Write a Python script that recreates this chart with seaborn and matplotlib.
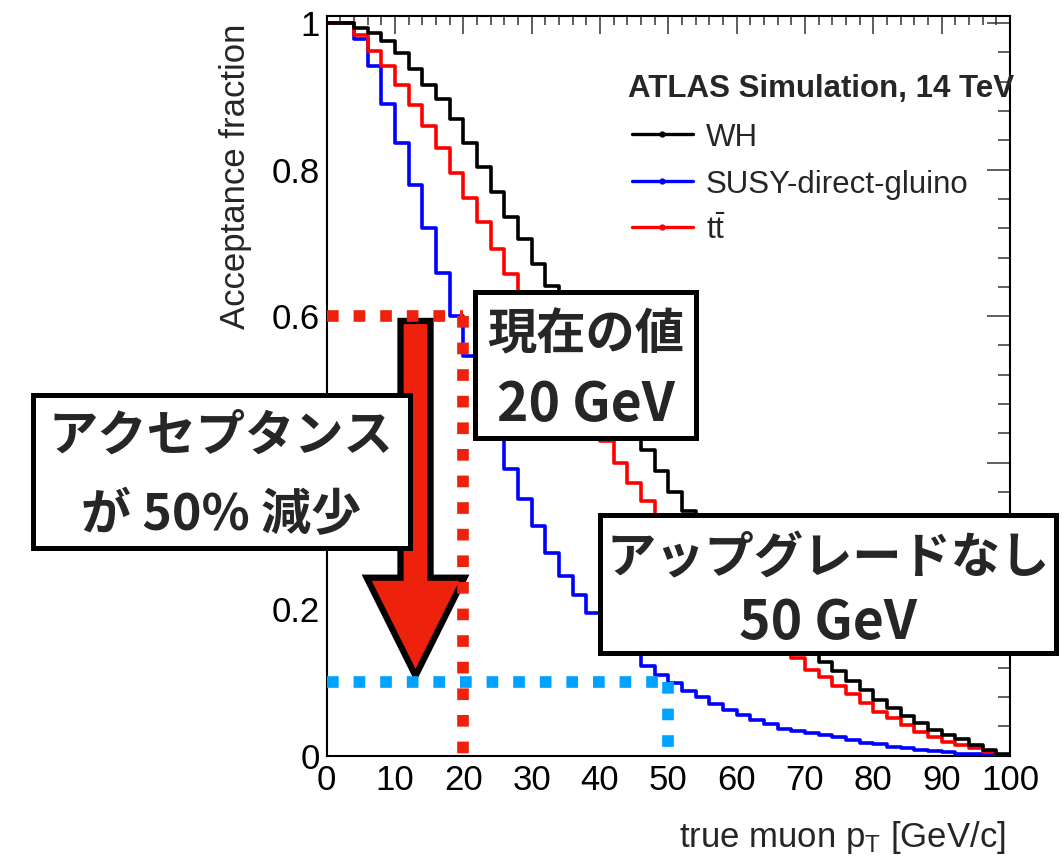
import numpy as np
import pandas as pd
import seaborn as sns
import matplotlib
matplotlib.use("Agg")
import matplotlib.pyplot as plt
from matplotlib.patches import Rectangle, FancyArrow
from matplotlib.lines import Line2D
from matplotlib.ticker import MultipleLocator, FuncFormatter

# ---------------- data ----------------
bin_edges = list(range(0, 102, 2))  # true muon pT bins [GeV/c]

wh = [1.000, 1.000, 0.994, 0.986, 0.975, 0.959, 0.938, 0.916, 0.896, 0.869,
      0.836, 0.804, 0.769, 0.735, 0.705, 0.671, 0.641, 0.610, 0.578, 0.546,
      0.514, 0.482, 0.450, 0.417, 0.388, 0.360, 0.334, 0.311, 0.287, 0.264,
      0.242, 0.221, 0.201, 0.182, 0.164, 0.146, 0.128, 0.115, 0.102, 0.090,
      0.076, 0.065, 0.054, 0.045, 0.035, 0.028, 0.023, 0.015, 0.008, 0.002]

susy = [1.000, 1.000, 0.979, 0.942, 0.889, 0.836, 0.779, 0.720, 0.659, 0.600,
        0.545, 0.492, 0.441, 0.392, 0.351, 0.313, 0.277, 0.245, 0.219, 0.195,
        0.175, 0.157, 0.139, 0.122, 0.110, 0.099, 0.089, 0.080, 0.071, 0.062,
        0.056, 0.049, 0.043, 0.037, 0.034, 0.031, 0.028, 0.025, 0.021, 0.018,
        0.016, 0.012, 0.010, 0.008, 0.006, 0.005, 0.003, 0.002, 0.001, 0.000]

ttbar = [1.000, 1.000, 0.984, 0.962, 0.942, 0.916, 0.888, 0.860, 0.830, 0.796,
         0.762, 0.728, 0.692, 0.657, 0.625, 0.593, 0.560, 0.528, 0.495, 0.463,
         0.430, 0.399, 0.372, 0.348, 0.323, 0.299, 0.276, 0.254, 0.233, 0.213,
         0.194, 0.177, 0.161, 0.147, 0.133, 0.117, 0.108, 0.095, 0.084, 0.072,
         0.060, 0.051, 0.042, 0.033, 0.026, 0.019, 0.015, 0.010, 0.0055, 0.001]

series_labels = ["WH", "SUSY-direct-gluino", r"t$\bar{\mathrm{t}}$"]
series_colors = ["#000000", "#0000FF", "#FF0000"]

current_cut, current_acc = 20, 0.6       # 現在の値 20 GeV
noupgrade_cut, noupgrade_acc = 50, 0.1   # アップグレードなし 50 GeV

x_ticks = [0, 10, 20, 30, 40, 50, 60, 70, 80, 90, 100]
y_ticks = [0, 0.2, 0.4, 0.6, 0.8, 1.0]
y_hidden_ticks = [0.4]  # covered by the annotation box in the original

# ---------------- style ----------------
sns.set_theme(style="white")
plt.rcParams['font.family'] = ['Liberation Sans', 'Noto Sans CJK JP', 'DejaVu Sans']
plt.rcParams['mathtext.fontset'] = 'custom'
plt.rcParams['mathtext.rm'] = 'Liberation Sans'
plt.rcParams['mathtext.it'] = 'Liberation Sans:italic'
plt.rcParams['mathtext.bf'] = 'Liberation Sans:bold'

JP = ['Noto Sans CJK JP', 'DejaVu Sans']
ANN_RED = "#EE220C"
ANN_CYAN = "#00A2FF"

W, H = 1062, 859
fig = plt.figure(figsize=(W / 100, H / 100), dpi=100)
fig.patch.set_facecolor("white")

def fx(px):
    return px / W

def fy(py):
    return 1 - py / H

ax_l, ax_r, ax_t, ax_b = 326.7, 1010.0, 16.0, 755.7
ax = fig.add_axes([fx(ax_l), fy(ax_b), (ax_r - ax_l) / W, (ax_b - ax_t) / H])
ax.set_facecolor("white")

centers = [(a + b) / 2 for a, b in zip(bin_edges[:-1], bin_edges[1:])]
order = [1, 2, 0]  # draw SUSY, ttbar, then WH on top
all_vals = [wh, susy, ttbar]
for i in order:
    sns.histplot(x=centers, weights=all_vals[i], bins=bin_edges, element="step",
                 fill=False, color=series_colors[i], linewidth=2.6, ax=ax, zorder=3)

ax.set_xlim(0, 100)
ax.set_ylim(0, 1.0098)
ax.set_xticks(x_ticks)
ax.set_yticks(y_ticks)
ax.xaxis.set_minor_locator(MultipleLocator(2))
ax.yaxis.set_minor_locator(MultipleLocator(0.04))
ax.yaxis.set_major_formatter(FuncFormatter(
    lambda v, p: "" if any(abs(v - h) < 1e-9 for h in y_hidden_ticks) else f"{v:g}"))
ax.tick_params(which="both", direction="in", top=True, right=True,
               colors="#333333", labelcolor="black", width=1.1)
ax.tick_params(axis="y", which="major", length=16.5, labelsize=25, pad=5)
ax.tick_params(axis="y", which="minor", length=8.5)
ax.tick_params(axis="x", which="major", length=13, labelsize=25, pad=6)
ax.tick_params(axis="x", which="minor", length=6.5)
for s in ax.spines.values():
    s.set_color("black")
    s.set_linewidth(1.5)

ax.set_xlabel(r"true muon p$_{\mathrm{T}}$ [GeV/c]", fontsize=25, loc="right")
ax.xaxis.set_label_coords((1006 - ax_l) / (ax_r - ax_l), -(819 - ax_b) / (ax_b - ax_t))
ax.set_ylabel("Acceptance fraction", fontsize=25, loc="top")
ax.yaxis.set_label_coords((252 - ax_l) / (ax_r - ax_l), (ax_b - 24) / (ax_b - ax_t))

# ---------------- legend (ROOT style) ----------------
fig.text(fx(628), fy(97), "ATLAS Simulation, 14 TeV", fontsize=22.5,
         fontweight="bold", ha="left", va="baseline", zorder=6)
leg_y = [134, 181, 227]
for lbl, col, yy in zip(series_labels, series_colors, leg_y):
    fig.add_artist(Line2D([fx(632), fx(662), fx(693)], [fy(yy)] * 3,
                          transform=fig.transFigure, color=col, lw=2.4,
                          marker="o", markersize=3.5, markevery=[1], zorder=6))
    fig.text(fx(706), fy(yy), lbl, fontsize=22.5, ha="left", va="center_baseline",
             zorder=6)

# ---------------- annotations ----------------
dash_kw = dict(lw=8.4, dashes=(1.0, 1.28), dash_capstyle="butt",
               solid_capstyle="butt", zorder=6)
ax.plot([0, current_cut], [current_acc, current_acc], color=ANN_RED, **dash_kw)
ax.plot([current_cut, current_cut], [current_acc, 0], color=ANN_RED, **dash_kw)
ax.plot([0, noupgrade_cut], [noupgrade_acc, noupgrade_acc], color=ANN_CYAN, **dash_kw)
ax.plot([noupgrade_cut, noupgrade_cut], [noupgrade_acc, 0], color=ANN_CYAN, **dash_kw)

arrow = FancyArrow(13.0, 0.5935, 0, -(0.5935 - 0.109), width=4.4, head_width=14.3,
                   head_length=0.134, length_includes_head=True, fc=ANN_RED,
                   ec="black", lw=4.5, joinstyle="miter", zorder=5)
ax.add_patch(arrow)

def box(x0, y0, x1, y1):
    fig.add_artist(Rectangle((fx(x0), fy(y1)), (x1 - x0) / W, (y1 - y0) / H,
                             transform=fig.transFigure, fc="white", ec="black",
                             lw=3.6, zorder=10))

def jtext(x, y, s, size):
    fig.text(fx(x), fy(y), s, fontsize=size, family=JP, fontweight="bold",
             ha="center", va="center_baseline", zorder=11)

box(32.5, 394.5, 409.5, 547.5)
jtext(221, 431, "アクセプタンス", 35.5)
jtext(221, 510, "が 50% 減少", 36)

box(475, 292, 696, 438)
jtext(585.5, 330, "現在の値", 35.5)
jtext(585.5, 400, "20 GeV", 38.5)

box(600, 515, 1056, 653)
jtext(828, 554, "アップグレードなし", 35.5)
jtext(828, 618, "50 GeV", 38.5)

fig.savefig("out.png", dpi=100, facecolor="white")
